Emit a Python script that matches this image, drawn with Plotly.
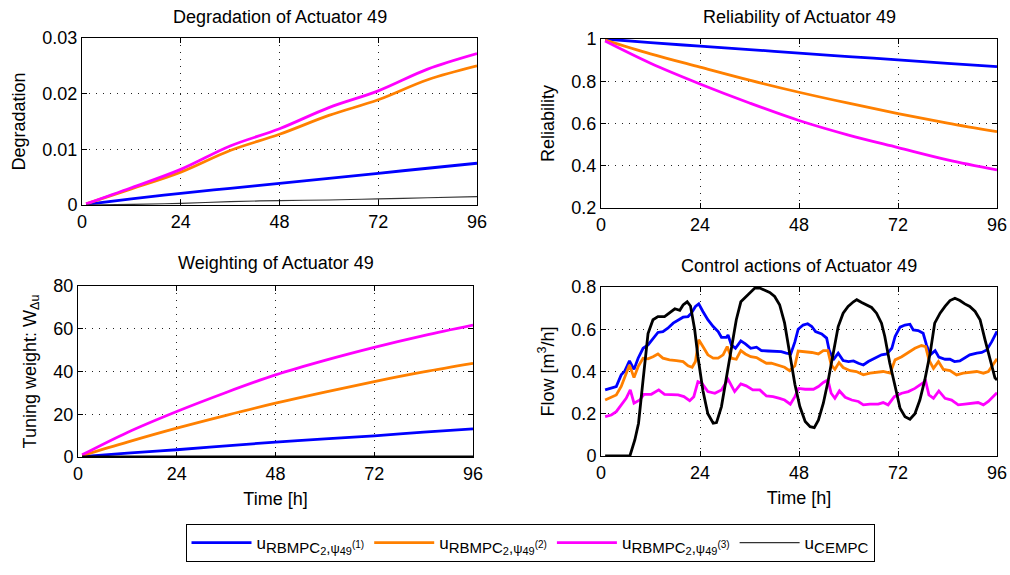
import plotly.graph_objects as go

# ---------------- data ----------------
hours = [1, 12, 24, 36, 48, 60, 72, 84, 96]

deg_rb1 = [0.0001, 0.0011, 0.0021, 0.0030, 0.0039, 0.0048, 0.0057, 0.0066, 0.0075]
deg_rb2 = [0.0002, 0.0029, 0.0059, 0.0098, 0.0127, 0.0161, 0.0189, 0.0225, 0.0250]
deg_rb3 = [0.0002, 0.0031, 0.0064, 0.0106, 0.0137, 0.0175, 0.0205, 0.0244, 0.0272]
deg_cempc = [0.0, 0.0001, 0.0003, 0.0006, 0.0008, 0.0009, 0.0011, 0.0013, 0.0015]

rel_rb1 = [1.0, 0.983, 0.966, 0.950, 0.933, 0.917, 0.901, 0.885, 0.869]
rel_rb2 = [0.995, 0.930, 0.867, 0.805, 0.748, 0.696, 0.647, 0.602, 0.561]
rel_rb3 = [0.99, 0.885, 0.787, 0.697, 0.614, 0.545, 0.486, 0.428, 0.380]

w_rb1 = [0.2, 1.8, 3.4, 5.2, 7.0, 8.5, 9.9, 11.6, 13.2]
w_rb2 = [0.7, 7.0, 13.5, 19.5, 25.2, 30.4, 35.3, 39.8, 43.8]
w_rb3 = [1.0, 11.5, 21.3, 30.2, 38.4, 45.2, 51.3, 56.8, 61.7]
w_cempc = [0, 0, 0, 0, 0, 0, 0, 0, 0]

u_cempc_t = [1, 7, 8.2, 9.1, 10.2, 11.4, 12.6, 13.8, 15.4, 16.6, 17.9, 19.1, 19.9, 20.9, 21.7, 22.7,
             23.5, 24.7, 25.9, 27.2, 28, 29.2, 30.4, 31.6, 32.8, 33.9, 34.8, 36, 37.3, 38.5, 39.7,
             40.9, 42.1, 43.3, 44.5, 45.7, 47, 48.2, 49.5, 50.7, 51.7, 52.7, 53.9, 55.1, 56.3, 57.5,
             58.7, 59.9, 61.2, 62, 63.2, 64.4, 65.6, 66.8, 68, 68.8, 70, 71.3, 72.5, 73.7, 74.9,
             76.1, 77.3, 78.5, 79.8, 80.9, 82.2, 83.4, 84.6, 85.8, 87, 88.2, 89.4, 90.7, 91.9,
             93.1, 94.3, 95.5, 96]
u_cempc = [0, 0, 0.076, 0.155, 0.36, 0.58, 0.645, 0.66, 0.66, 0.676, 0.697, 0.69, 0.715, 0.73, 0.71,
           0.6, 0.47, 0.31, 0.2, 0.155, 0.158, 0.234, 0.376, 0.52, 0.645, 0.73, 0.747, 0.77, 0.795,
           0.795, 0.784, 0.774, 0.755, 0.716, 0.63, 0.5, 0.34, 0.234, 0.163, 0.139, 0.134, 0.17,
           0.25, 0.36, 0.487, 0.613, 0.676, 0.708, 0.73, 0.74, 0.727, 0.716, 0.703, 0.676, 0.629,
           0.566, 0.44, 0.33, 0.226, 0.186, 0.174, 0.2, 0.265, 0.36, 0.487, 0.629, 0.676, 0.708,
           0.736, 0.747, 0.736, 0.72, 0.708, 0.684, 0.645, 0.55, 0.455, 0.37, 0.36]

u_rb1_t = [1, 2.5, 3.7, 4.9, 5.7, 6.9, 8, 9, 10.2, 11.4, 12.6, 13.8, 15, 16.2, 17.5, 18.7, 19.9, 21.1,
           21.9, 22.9, 23.7, 24.7, 25.9, 27.2, 28.4, 29.2, 30.4, 30.8, 31.6, 32.6, 33.9, 35, 36.3,
           37.7, 38.9, 40.5, 42.1, 43.7, 44.9, 46, 47, 47.8, 49, 50.1, 51.1, 52, 53.5, 54.7, 55.3,
           56.3, 57.5, 58.7, 60, 61.2, 62.4, 63.6, 64.8, 66.4, 68, 69.3, 70.5, 71.3, 72.5, 73.7,
           74.9, 75.7, 76.9, 78.1, 78.9, 79.8, 81, 81.9, 83.4, 84.6, 85.7, 87, 88.2, 89.4, 91.1,
           92.3, 93.5, 94.7, 96]
u_rb1 = [0.313, 0.32, 0.329, 0.384, 0.40, 0.45, 0.41, 0.463, 0.51, 0.526, 0.558, 0.585, 0.589, 0.605,
         0.629, 0.645, 0.657, 0.66, 0.676, 0.708, 0.72, 0.684, 0.645, 0.613, 0.589, 0.562, 0.562,
         0.573, 0.526, 0.51, 0.545, 0.531, 0.51, 0.515, 0.499, 0.497, 0.497, 0.494, 0.487, 0.483,
         0.54, 0.60, 0.62, 0.626, 0.613, 0.589, 0.578, 0.558, 0.502, 0.455, 0.487, 0.452, 0.447,
         0.45, 0.439, 0.431, 0.447, 0.463, 0.479, 0.483, 0.51, 0.566, 0.61, 0.62, 0.624, 0.597,
         0.594, 0.581, 0.526, 0.479, 0.499, 0.468, 0.458, 0.458, 0.447, 0.45, 0.463, 0.479, 0.487,
         0.49, 0.502, 0.54, 0.59]

u_rb2_t = [1, 2.5, 3.7, 4.9, 6.1, 6.9, 8, 9, 10.2, 11.4, 12.6, 13.8, 15, 16.6, 18.3, 19.9, 21.1, 22.1,
           22.9, 23.7, 24.7, 25.9, 27.2, 28.4, 29.6, 30.6, 31.6, 32.8, 33.9, 35, 36.3, 37.7, 38.9,
           40.1, 41.3, 42.9, 44.5, 45.7, 47, 47.8, 49.5, 51.1, 52.7, 53.9, 55, 55.8, 56.7, 57.7,
           58.7, 60.4, 61.9, 63.6, 65.2, 66.8, 68.4, 70.1, 71.3, 72.9, 74.5, 76.1, 77.7, 78.7, 79.5,
           80.6, 81.8, 83, 84.6, 86.2, 87.8, 89.4, 91.1, 92.7, 93.9, 96]
u_rb2 = [0.265, 0.278, 0.289, 0.329, 0.392, 0.431, 0.371, 0.423, 0.463, 0.46, 0.47, 0.483, 0.463,
         0.455, 0.452, 0.447, 0.427, 0.42, 0.447, 0.55, 0.518, 0.479, 0.463, 0.463, 0.479, 0.518,
         0.463, 0.458, 0.499, 0.483, 0.47, 0.466, 0.452, 0.439, 0.439, 0.431, 0.42, 0.404, 0.427,
         0.497, 0.494, 0.49, 0.483, 0.499, 0.499, 0.431, 0.41, 0.442, 0.419, 0.404, 0.40, 0.384,
         0.392, 0.397, 0.40, 0.392, 0.455, 0.47, 0.49, 0.51, 0.523, 0.518, 0.455, 0.415, 0.447,
         0.41, 0.404, 0.384, 0.392, 0.397, 0.40, 0.392, 0.40, 0.46]

u_rb3_t = [1, 2.5, 3.7, 4.9, 6.1, 7.1, 8, 9.4, 10.4, 12.2, 14, 15.4, 17, 18.7, 20.1, 21.5, 22.5, 23.5,
           24.5, 25.9, 27.6, 29.2, 30.8, 32.4, 33.9, 35.2, 36.8, 38.5, 40.1, 41.7, 43.3, 44.5, 45.9,
           47, 47.9, 49.5, 51.5, 52.7, 53.9, 55, 55.8, 56.7, 57.8, 59.2, 60.8, 62.4, 63.6, 65.2,
           67.2, 68.4, 69.6, 71.1, 72.9, 74.5, 76.1, 77.7, 78.7, 79.5, 80.6, 81.9, 83.4, 85, 86.6,
           88.2, 89.8, 91.4, 92.7, 93.9, 96]
u_rb3 = [0.186, 0.194, 0.21, 0.242, 0.273, 0.313, 0.25, 0.265, 0.292, 0.292, 0.313, 0.292, 0.289,
         0.289, 0.281, 0.262, 0.281, 0.352, 0.344, 0.305, 0.297, 0.313, 0.363, 0.305, 0.341, 0.332,
         0.313, 0.313, 0.284, 0.281, 0.273, 0.265, 0.245, 0.281, 0.32, 0.316, 0.316, 0.329, 0.348,
         0.36, 0.297, 0.273, 0.308, 0.278, 0.265, 0.258, 0.242, 0.246, 0.246, 0.253, 0.242, 0.281,
         0.297, 0.305, 0.32, 0.344, 0.355, 0.289, 0.273, 0.308, 0.273, 0.265, 0.242, 0.246, 0.25,
         0.253, 0.242, 0.258, 0.30]

x_ticks = [0, 24, 48, 72, 96]
titles = ["Degradation of Actuator 49", "Reliability of Actuator 49",
          "Weighting of Actuator 49", "Control actions of Actuator 49"]


def span(txt, size):
    return '<span style="font-size:%dpx">%s</span>' % (size, txt)


def rb_name(k):
    return ('u<sub>' + span('RBMPC', 15) + '<sub>' + span('2', 11) + '</sub>' + span(',', 15)
            + span('ψ', 13) + '<sub>' + span('49', 11) + '</sub><sup>' + span('(%d)' % k, 10)
            + '</sup></sub>')


names = [rb_name(1), rb_name(2), rb_name(3), 'u<sub>' + span('CEMPC', 15) + '</sub>']

# ---------------- styles ----------------
BLUE, ORANGE, MAGENTA, BLACK = "#0000FF", "#FF8000", "#FF00FF", "#000000"
LW = 2.8
FONT = "Liberation Sans, Arial, sans-serif"
W, H = 1010, 575

fig = go.Figure()


def add(x, y, color, width, ax, name=None, legend=False, shape="linear"):
    fig.add_trace(go.Scatter(x=x, y=y, mode="lines",
                             line=dict(color=color, width=width, shape=shape),
                             xaxis="x" + ax, yaxis="y" + ax, name=name, showlegend=legend,
                             hoverinfo="skip"))


# degradation (legend source)
add(hours, deg_rb1, BLUE, LW, "", names[0], True, "spline")
add(hours, deg_rb2, ORANGE, LW, "", names[1], True, "spline")
add(hours, deg_rb3, MAGENTA, LW, "", names[2], True, "spline")
add(hours, deg_cempc, "#333333", 1.2, "", names[3], True, "spline")
# reliability
add(hours, rel_rb1, BLUE, LW, "2", shape="spline")
add(hours, rel_rb2, ORANGE, LW, "2", shape="spline")
add(hours, rel_rb3, MAGENTA, LW, "2", shape="spline")
# weighting
add(hours, w_rb1, BLUE, LW, "3", shape="spline")
add(hours, w_rb2, ORANGE, LW, "3", shape="spline")
add(hours, w_rb3, MAGENTA, LW, "3", shape="spline")
add(hours, w_cempc, BLACK, LW, "3")
# control actions
add(u_rb1_t, u_rb1, BLUE, LW, "4")
add(u_rb2_t, u_rb2, ORANGE, LW, "4")
add(u_rb3_t, u_rb3, MAGENTA, LW, "4")
add(u_cempc_t, u_cempc, BLACK, LW, "4")


def px_dom_x(a, b):
    return [a / W, b / W]


def px_dom_y(top, bottom):
    return [1 - bottom / H, 1 - top / H]


axis_common = dict(showline=True, linecolor="black", linewidth=1, mirror="ticks",
                   ticks="inside", ticklen=5, tickcolor="black", showgrid=True,
                   gridcolor="#222222", gridwidth=1, griddash="1px,6px", zeroline=False,
                   tickfont=dict(family=FONT, size=18, color="black"))


def xax(dom, anchor, title=None):
    d = dict(axis_common, domain=dom, anchor=anchor, range=[0, 96], tickvals=x_ticks,
             ticktext=[str(v) for v in x_ticks])
    if title:
        d["title"] = dict(text=title, font=dict(family=FONT, size=18, color="black"), standoff=9)
    return d


def yax(dom, anchor, rng, vals, text, title):
    return dict(axis_common, domain=dom, anchor=anchor, range=rng, tickvals=vals, ticktext=text,
                title=dict(text=title, font=dict(family=FONT, size=18, color="black"), standoff=12))


fig.update_layout(
    width=W, height=H, margin=dict(l=0, r=0, t=0, b=0, autoexpand=False),
    paper_bgcolor="white", plot_bgcolor="white",
    font=dict(family=FONT, size=18, color="black"),
    xaxis=xax(px_dom_x(82, 477), "y"),
    yaxis=yax(px_dom_y(38, 205), "x", [0, 0.03], [0, 0.01, 0.02, 0.03],
              ["0", "0.01", "0.02", "0.03"], "Degradation"),
    xaxis2=xax(px_dom_x(601, 997), "y2"),
    yaxis2=yax(px_dom_y(39, 208), "x2", [0.2, 1], [0.2, 0.4, 0.6, 0.8, 1],
               ["0.2", "0.4", "0.6", "0.8", "1"], "Reliability"),
    xaxis3=xax(px_dom_x(78, 473), "y3", "Time [h]"),
    yaxis3=yax(px_dom_y(286, 457), "x3", [0, 80], [0, 20, 40, 60, 80],
               ["0", "20", "40", "60", "80"], "Tuning weight: W<sub>Δu</sub>"),
    xaxis4=xax(px_dom_x(601, 997), "y4", "Time [h]"),
    yaxis4=yax(px_dom_y(287, 456), "x4", [0, 0.8], [0, 0.2, 0.4, 0.6, 0.8],
               ["0", "0.2", "0.4", "0.6", "0.8"], "Flow [m<sup>3</sup>/h]"),
    legend=dict(orientation="h", x=530 / W, xanchor="center", y=1 - 524 / H, yanchor="top",
                bordercolor="black", borderwidth=1, bgcolor="white",
                font=dict(family=FONT, size=17, color="black"), itemwidth=60,
                tracegroupgap=0),
)

title_pos = [((82 + 477) / 2, 17), ((601 + 997) / 2, 17), ((78 + 473) / 2, 263), ((601 + 997) / 2, 266)]
for (cx, cy), t in zip(title_pos, titles):
    fig.add_annotation(text=t, x=cx / W, y=1 - cy / H, xref="paper", yref="paper",
                       showarrow=False, xanchor="center", yanchor="middle",
                       font=dict(family=FONT, size=18, color="black"))

fig.write_html("out.html")
